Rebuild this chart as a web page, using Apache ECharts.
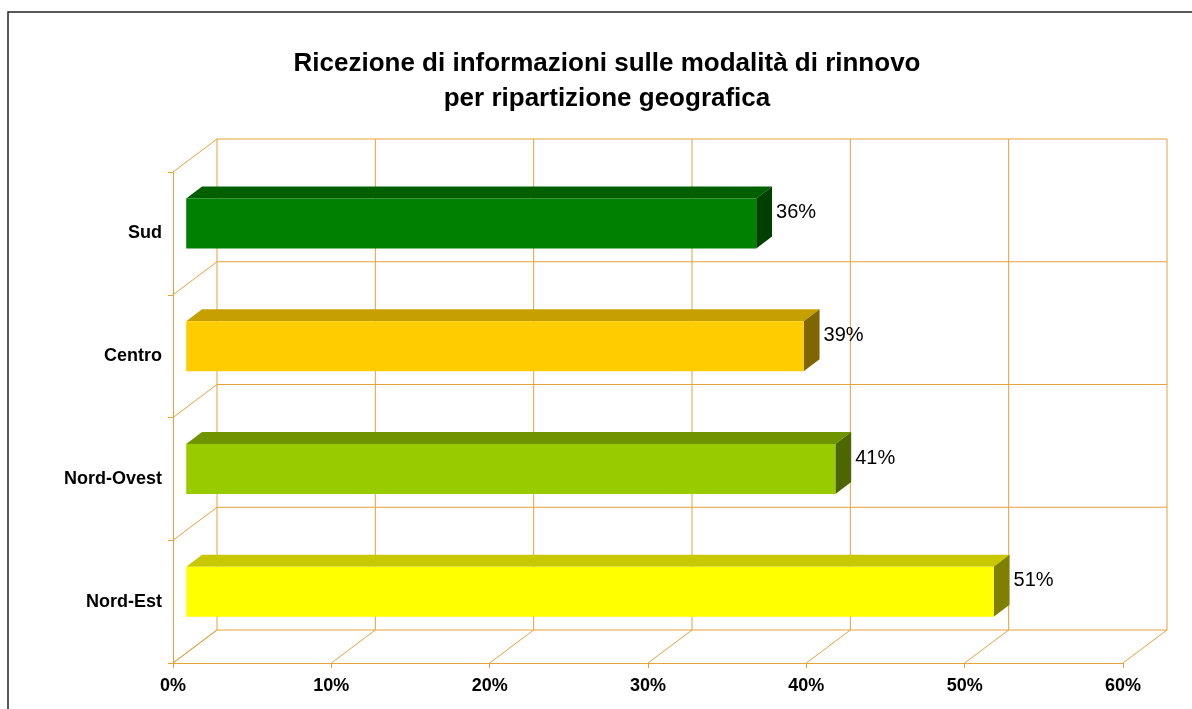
<!DOCTYPE html>
<html>
<head>
<meta charset="utf-8">
<title>Ricezione di informazioni sulle modalità di rinnovo</title>
<script src="https://cdn.jsdelivr.net/npm/echarts@6/dist/echarts.min.js"></script>
<style>
  html, body { margin: 0; padding: 0; background: #ffffff; }
  #chart { width: 1192px; height: 709px; }
</style>
</head>
<body>
<div id="chart"></div>
<script>
// Regions, listed bottom to top as they appear on the category axis
const categories = ['Nord-Est', 'Nord-Ovest', 'Centro', 'Sud'];
// Share of respondents informed about renewal procedures (%)
const values = [51, 41, 39, 36];
// Value axis ticks (%)
const xTicks = [0, 10, 20, 30, 40, 50, 60];

const titleLines = [
  'Ricezione di informazioni sulle modalità di rinnovo',
  'per ripartizione geografica'
];

// Face colours per region: front, top, side
const palette = [
  { front: '#FFFF00', top: '#C8C800', side: '#808000' },
  { front: '#99CC00', top: '#6F9400', side: '#4D6600' },
  { front: '#FFCC00', top: '#C6A000', side: '#806600' },
  { front: '#008000', top: '#006000', side: '#004000' }
];

const GRID_COLOR = '#E3A23A';
// Depth of the 3D box, in pixels
const DEPTH = { dx: 44, dy: -33 };
// Bar slab sits between these depth fractions
const BAR_D0 = 0.30, BAR_D1 = 0.66;
const BAR_H = 50;

const chart = echarts.init(document.getElementById('chart'), null, { renderer: 'canvas' });

function renderFrame(params, api) {
  const children = [];
  const line = (x1, y1, x2, y2) => children.push({
    type: 'line',
    shape: { x1, y1, x2, y2 },
    style: { stroke: GRID_COLOR, lineWidth: 1 }
  });
  const band = api.size([0, 1])[1];
  const firstC = api.coord([0, 0]);
  const lastC = api.coord([0, categories.length - 1]);
  const yBottom = firstC[1] + band / 2;
  const yTop = lastC[1] - band / 2;
  const xLeft = api.coord([xTicks[0], 0])[0];
  const xRight = api.coord([xTicks[xTicks.length - 1], 0])[0];

  // back wall verticals + floor diagonals
  xTicks.forEach(function (t) {
    const x = api.coord([t, 0])[0];
    line(x + DEPTH.dx, yTop + DEPTH.dy, x + DEPTH.dx, yBottom + DEPTH.dy);
    line(x, yBottom, x + DEPTH.dx, yBottom + DEPTH.dy);
  });
  // back wall horizontals + side wall diagonals at category boundaries
  for (let i = 0; i <= categories.length; i++) {
    const y = yBottom - i * band;
    line(xLeft + DEPTH.dx, y + DEPTH.dy, xRight + DEPTH.dx, y + DEPTH.dy);
    line(xLeft, y, xLeft + DEPTH.dx, y + DEPTH.dy);
  }
  return { type: 'group', children: children };
}

function renderBar(params, api) {
  const idx = api.value(0);
  const val = api.value(1);
  const c0 = api.coord([0, idx]);
  const c1 = api.coord([val, idx]);
  const col = palette[idx];

  const fx = DEPTH.dx * BAR_D0, fy = DEPTH.dy * BAR_D0;
  const bx = DEPTH.dx * BAR_D1, by = DEPTH.dy * BAR_D1;
  const x0 = c0[0] + fx, x1 = c1[0] + fx;
  const top = c0[1] + fy - BAR_H / 2;
  const bot = c0[1] + fy + BAR_H / 2;
  const ddx = bx - fx, ddy = by - fy;

  return {
    type: 'group',
    children: [
      {
        type: 'polygon',
        shape: { points: [[x0, top], [x0 + ddx, top + ddy], [x1 + ddx, top + ddy], [x1, top]] },
        style: { fill: col.top }
      },
      {
        type: 'polygon',
        shape: { points: [[x1, top], [x1 + ddx, top + ddy], [x1 + ddx, bot + ddy], [x1, bot]] },
        style: { fill: col.side }
      },
      {
        type: 'rect',
        shape: { x: x0, y: top, width: x1 - x0, height: bot - top },
        style: { fill: col.front }
      },
      {
        type: 'text',
        x: x1 + ddx + 4,
        y: c0[1] + by + 1,
        style: {
          text: val + '%',
          fill: '#000000',
          font: '20px "Liberation Sans", Arial, sans-serif',
          textAlign: 'left',
          textVerticalAlign: 'middle'
        }
      }
    ]
  };
}

const option = {
  backgroundColor: '#ffffff',
  animation: false,
  grid: { left: 173, right: 69, top: 172, bottom: 46, containLabel: false },
  xAxis: {
    type: 'value',
    min: xTicks[0],
    max: xTicks[xTicks.length - 1],
    interval: 10,
    axisLine: { show: true, lineStyle: { color: GRID_COLOR, width: 1 } },
    axisTick: { show: true, length: 5, lineStyle: { color: GRID_COLOR } },
    splitLine: { show: false },
    axisLabel: {
      formatter: '{value}%',
      color: '#000000',
      fontFamily: '"Liberation Sans", Arial, sans-serif',
      fontWeight: 'bold',
      fontSize: 18,
      margin: 14
    }
  },
  yAxis: {
    type: 'category',
    data: categories,
    axisLine: { show: true, lineStyle: { color: GRID_COLOR, width: 1 } },
    axisTick: { show: true, length: 5, lineStyle: { color: GRID_COLOR } },
    splitLine: { show: false },
    axisLabel: {
      color: '#000000',
      fontFamily: '"Liberation Sans", Arial, sans-serif',
      fontWeight: 'bold',
      fontSize: 18,
      margin: 11
    }
  },
  graphic: [
    {
      type: 'rect',
      shape: { x: 8, y: 12, width: 1200, height: 720 },
      style: { fill: 'none', stroke: '#222222', lineWidth: 1.5 },
      z: 0
    },
    {
      type: 'text',
      x: 607,
      y: 81,
      style: {
        text: titleLines.join('\n'),
        fill: '#000000',
        font: 'bold 26px "Liberation Sans", Arial, sans-serif',
        lineHeight: 35,
        textAlign: 'center',
        textVerticalAlign: 'middle'
      },
      z: 10
    }
  ],
  series: [
    {
      type: 'custom',
      name: 'frame',
      clip: false,
      silent: true,
      z: 1,
      renderItem: renderFrame,
      data: [[0, 0]]
    },
    {
      type: 'custom',
      name: 'Ricezione informazioni',
      clip: false,
      z: 3,
      renderItem: renderBar,
      encode: { x: 1, y: 0 },
      data: values.map(function (v, i) { return [i, v]; })
    }
  ]
};

chart.setOption(option);
</script>
</body>
</html>
